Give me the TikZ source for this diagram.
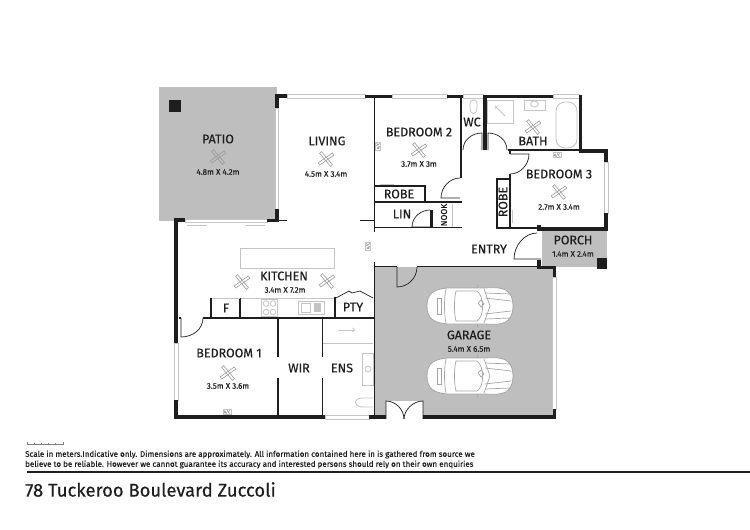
\documentclass[tikz,border=0pt]{standalone}
\usepackage{fontspec}
\setmainfont[FakeBold=0.35]{Fira Sans}
\definecolor{floorgray}{HTML}{BEBEBE}
\definecolor{inkdark}{HTML}{1E1E1E}
\definecolor{fixgray}{HTML}{C4C4C4}
\definecolor{fangray}{HTML}{9A9A9A}
\tikzset{
  wall/.style={line width=3.6pt, inkdark},
  partition/.style={line width=1.9pt, inkdark},
  door/.style={line width=.7pt, inkdark},
  fixture/.style={line width=.8pt, fixgray},
  glass/.style={line width=.6pt, fixgray, fill=white},
  roomname/.style={inner sep=0pt, text=inkdark, font=\fontsize{12.5}{12.5}\selectfont},
  roomsize/.style={inner sep=0pt, text=inkdark, font=\fontsize{8}{8}\selectfont},
  aircon/.style={draw=fixgray, fill=white, line width=.5pt, inner sep=.8pt, text=fangray, font=\fontsize{4}{4}\selectfont},
  small note/.style={inner sep=0pt, anchor=west, text=inkdark, font=\fontsize{8}{8}\selectfont},
  fan/.pic={
    \draw[line width=.6pt, fangray, rotate=35] (-8.5,-1.3) rectangle (8.5,1.3);
    \draw[line width=.6pt, fangray, rotate=-50] (-8.5,-1.3) rectangle (8.5,1.3);
  },
  car/.pic={
    \draw[line width=.8pt, draw=gray!70, fill=white]
      (-43,0) .. controls (-43,-12) and (-37,-17) .. (-22,-18) -- (15,-18)
      .. controls (28,-19) and (36,-18) .. (40,-12)
      .. controls (44,-6) and (44,6) .. (40,12)
      .. controls (36,18) and (28,19) .. (15,18) -- (-22,18)
      .. controls (-37,17) and (-43,12) .. (-43,0) -- cycle;
    \draw[line width=.7pt, gray!70] (-14,-15) -- (7,-15) .. controls (14,-10) and (15,10) .. (7,15) -- (-14,15) .. controls (-16,8) and (-16,-8) .. (-14,-15);
    \draw[line width=.7pt, gray!70] (-33,-8) rectangle (-29,8);
    \draw[line width=.7pt, gray!70] (-24,-17) .. controls (-26,-8) and (-26,8) .. (-24,17);
    \draw[line width=.7pt, gray!70] (15,-8) -- (41,-5);
    \draw[line width=.7pt, gray!70] (15,8) -- (41,5);
    \draw[line width=.7pt, gray!70] (15,-13) -- (40,-12);
    \draw[line width=.7pt, gray!70] (15,13) -- (40,12);
    \draw[line width=.7pt, gray!70] (14,-17) -- (20,0) -- (14,17);
    \draw[line width=.7pt, gray!70] (8,-3) -- (11,-6) -- (14,-2) -- (11,1) -- cycle;
    \draw[line width=.9pt, gray!70] (7,-18) -- (8,-21);
    \draw[line width=.9pt, gray!70] (7,18) -- (8,21);
  }
}
\begin{document}
\begin{tikzpicture}[x=1pt, y=-1pt]
   \useasboundingbox (0,0) rectangle (750,530);
   \fill[white] (0,0) rectangle (750,530);
   \fill[floorgray] (159,87) rectangle (277,221);
   \fill[floorgray] (375,267) rectangle (553,416);
   \fill[floorgray] (542,231) rectangle (607,267);
   \fill[white] (386,401) rectangle (423,420);
   \fill[inkdark] (169,100) rectangle (181,112);
   \fill[inkdark] (597,258) rectangle (607,269);

   \draw[glass] (287,94.5) rectangle (365,98);
   \draw[glass] (392,94.5) rectangle (447,98);
   \draw[glass] (463,94.5) rectangle (483,98);
   \draw[glass] (553,94.5) rectangle (579,98);
   \draw[glass] (275,108) rectangle (278.5,209);
   \draw[glass] (185,219) rectangle (267,222.5);
   \draw[glass] (174.5,343) rectangle (178,400);
   \draw[glass] (325,415) rectangle (369,419);
   \draw[glass] (552.5,277) rectangle (556.5,409);
   \draw[glass] (604,162) rectangle (608,213);

   \draw[wall] (277,108) -- (277,96) -- (287,96);
   \draw[wall] (277,209) -- (277,220.5);
   \draw[wall] (267,220.5) -- (279,220.5);
   \draw[partition] (279,220.5) -- (287,220.5);
   \draw[partition] (360,220.5) -- (374,220.5);
   \draw[wall] (176,343) -- (176,220) -- (185,220);
   \draw[wall] (176,400) -- (176,417) -- (325,417);
   \draw[wall] (369,417) -- (386,417);
   \draw[wall] (423,417) -- (554.5,417) -- (554.5,409);
   \draw[wall] (554.5,277) -- (554.5,267.5) -- (537,267.5);
   \draw[wall] (539,260) -- (539,269);
   \draw[partition] (374.5,266.5) -- (397,266.5);
   \draw[partition] (417,266.5) -- (538,266.5);
   \draw[wall] (539,225) -- (539,229) -- (607,229);
   \draw[wall] (606,162) -- (606,151) -- (580.5,151) -- (580.5,96.5) -- (579,96.5);
   \draw[wall] (553,96.5) -- (483,96.5);
   \draw[wall] (606,213) -- (606,231);
   \draw[wall] (463,96.5) -- (447,96.5);
   \draw[wall] (392,96.5) -- (365,96.5);
   \draw[wall] (485,96.5) -- (485,150);
   \draw[partition] (508,150) -- (580,150);
   \draw[partition] (374.5,96) -- (374.5,232);
   \draw[partition] (461,96) -- (461,178);
   \draw[partition] (374,186) -- (425,186) -- (425,202);
   \draw[partition] (374,202) -- (462,202);
   \draw[partition] (374,227.5) -- (430,227.5);
   \draw[partition] (433,227.5) -- (462,227.5);
   \draw[line width=2.6pt, inkdark] (431.5,210) -- (431.5,228);
   \draw[partition] (510,150) -- (510,154);
   \draw[partition] (510,174) -- (510,229);
   \draw[line width=2.4pt, inkdark] (497,228) -- (497,179) -- (510,179);
   \draw[partition] (496,228) -- (539,228);

   \draw[partition] (211,298) -- (211,318);
   \draw[partition] (240,298) -- (240,318);
   \draw[partition] (335,297) -- (335,318);
   \draw[partition] (203,318) -- (374.5,318);
   \draw[partition] (374.5,262) -- (374.5,416);
   \draw[partition] (278,318) -- (278,357);
   \draw[partition] (278,378) -- (278,416);
   \draw[partition] (322.5,318) -- (322.5,357);
   \draw[partition] (322.5,378) -- (322.5,416);
   \draw[partition] (179,318) -- (181,318);

   \draw[door] (482,150) -- (482,133) .. controls (472,133) and (463,140) .. (463,150);
   \draw[door] (488,150) -- (488,133) .. controls (498,133) and (507,140) .. (507,150);
   \draw[door] (460,198) -- (441,198) .. controls (441,187) and (450,178) .. (460,178);
   \draw[door] (510,154) -- (529,154) .. controls (529,165) and (520,174) .. (510,174);
   \draw[door] (430,227) -- (412,227) .. controls (412,217) and (421,210) .. (430,210);
   \draw[door] (541,259) -- (514,259) .. controls (514,245) and (525,233) .. (537,233);
   \draw[door] (397,267) -- (397,287) .. controls (408,287) and (417,278) .. (417,267);
   \draw[door] (386,419) -- (386,401) .. controls (396,401) and (404,410) .. (404,419);
   \draw[door] (423,419) -- (423,401) .. controls (413,401) and (404,410) .. (404,419);
   \draw[door] (181,318) -- (181,337) .. controls (193,337) and (203,329) .. (203,318);

   \draw[fixture] (187,225) -- (207,225);
   \draw[fixture] (245,225) -- (265,225);
   \draw[fixture] (240,248) rectangle (334,268);
   \draw[fixture] (241,298) -- (334,298);
   \draw[fixture] (212,298.5) -- (240,298.5);
   \draw[fixture] (261,299) rectangle (277,316);
   \foreach \cx/\cy in {266/303.5,273/303.5,266/312,273/312}
     \draw[fixture] (\cx,\cy) circle (2.8);
   \draw[fixture] (298,301) rectangle (324,314);
   \draw[fixture] (301,303) rectangle (310,312);
   \fill[fixgray] (314,303) rectangle (321,312);
   \draw[door] (336,298) -- (349,291) -- (352,293) -- (360,291) -- (373,298);
   \draw[fixture] (323,343) -- (373,343);
   \draw[fixture, ->] (338,330) -- (355,330);
   \draw[fixture] (362,353) rectangle (373,385);
   \draw[fixture] (368,369) circle (3);
   \draw[fixture] (373,398) -- (362,398) .. controls (353,399) and (353,406) .. (362,407) -- (373,407);
   \draw[fixture] (487,100) rectangle (513,123);
   \draw[fixture, ->] (505,116) -- (495,106);
   \draw[fixture] (524,100) rectangle (545,110);
   \draw[fixture] (534.5,104) ellipse (4 and 3);
   \draw[fixture, rounded corners=9pt] (556,102) rectangle (577,148);
   \draw[fixture] (470,103) .. controls (470,99) and (477,99) .. (477,103) -- (477,107) .. controls (477,116) and (470,116) .. (470,107) -- cycle;
   \draw[fixture] (452,204) -- (452,227);
   \draw[fixture] (512,210) -- (512,223);
   \draw[fixture] (380,184) -- (394,184);

   \pic at (218,157) {fan};
   \pic at (326,159) {fan};
   \pic at (419,150) {fan};
   \pic at (533,127) {fan};
   \pic at (559,192) {fan};
   \pic at (242,282) {fan};
   \pic at (327,281) {fan};
   \pic at (228,373) {fan};
   \pic at (470,306) {car};
   \pic at (470,376) {car};

   \node[roomname] (patio) at (218,139) {PATIO};
   \node[roomsize] (patiosize) at (218,172) {4.8m X 4.2m};
   \node[roomname] (living) at (327,141) {LIVING};
   \node[roomsize] (livingsize) at (326,174) {4.5m X 3.4m};
   \node[roomname] (bedtwo) at (419,132) {BEDROOM 2};
   \node[roomsize] (bedtwosize) at (419,164) {3.7m X 3m};
   \node[roomname] (wc) at (472,122) {WC};
   \node[roomname] (bath) at (533,141) {BATH};
   \node[roomname] (bedthree) at (559,174) {BEDROOM 3};
   \node[roomsize] (bedthreesize) at (559,207) {2.7m X 3.4m};
   \node[roomname] (robeone) at (399,194) {ROBE};
   \node[roomname] (lin) at (402,214) {LIN};
   \node[roomname, rotate=90, font=\fontsize{8.5}{8.5}\selectfont] (nook) at (444,215) {NOOK};
   \node[roomname, rotate=90] (robetwo) at (503,202) {ROBE};
   \node[roomname] (entry) at (489,249) {ENTRY};
   \node[roomname] (porch) at (573,240) {PORCH};
   \node[roomsize] (porchsize) at (573,254) {1.4m X 2.4m};
   \node[roomname] (kitchen) at (284,276) {KITCHEN};
   \node[roomsize] (kitchensize) at (285,290) {3.4m X 7.2m};
   \node[roomname] (fridge) at (226,308) {F};
   \node[roomname] (pty) at (353,307) {PTY};
   \node[roomname] (garage) at (469,335) {GARAGE};
   \node[roomsize] (garagesize) at (469,349) {5.4m X 6.5m};
   \node[roomname] (bedone) at (229,353) {BEDROOM 1};
   \node[roomsize] (bedonesize) at (228,386) {3.5m X 3.6m};
   \node[roomname] (wir) at (299,368) {WIR};
   \node[roomname] (ens) at (342,368) {ENS};

   \node[aircon, rotate=90] (acone) at (378,146) {A/C};
   \node[aircon, rotate=90] (actwo) at (368,246) {A/C};
   \node[aircon] (acthree) at (557,155) {A/C};
   \node[aircon] (acfour) at (227,412) {A/C};

   \draw[line width=.5pt, gray] (27,442) -- (27,444) -- (63,444) -- (63,442);
   \foreach \tick in {34,41,48,55}
     \draw[line width=.5pt, gray] (\tick,442.5) -- (\tick,444);
   \node[small note] (noteone) at (25,454.5) {Scale in meters.Indicative only. Dimensions are approximately. All information contained here in is gathered from source we};
   \node[small note] (notetwo) at (25,464.5) {believe to be reliable. However we cannot guarantee its accuracy and interested persons should rely on their own enquiries};
   \coordinate (rulestart) at (27,472);
   \coordinate (ruleend) at (750,472);
   \draw[line width=1.1pt, inkdark] (rulestart) -- (ruleend);
   \node[inner sep=0pt, anchor=west, text=inkdark, font=\fontsize{18.4}{18.4}\selectfont] (address) at (25,489.5) {78 Tuckeroo Boulevard Zuccoli};
\end{tikzpicture}
\end{document}
